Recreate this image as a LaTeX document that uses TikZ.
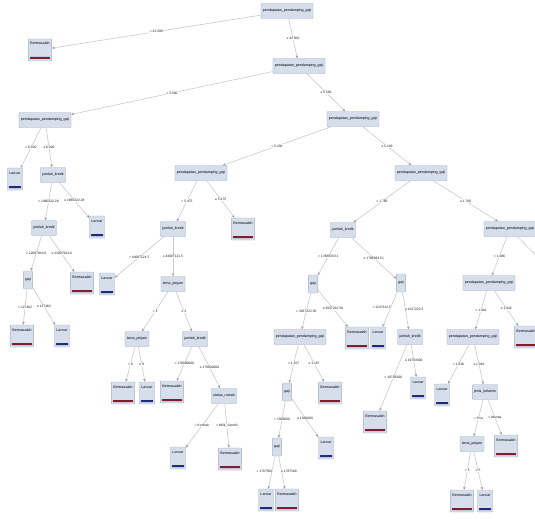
\documentclass[tikz,border=0pt]{standalone}
\usepackage{fontspec}
\setmainfont{Liberation Sans}
\usetikzlibrary{arrows.meta}
\definecolor{boxfill}{HTML}{D6DEEC}
\definecolor{boxline}{HTML}{A3AFC6}
\definecolor{edgec}{HTML}{CACACA}
\definecolor{redbar}{HTML}{7E1E2E}
\definecolor{bluebar}{HTML}{1E2B78}
\tikzset{
  inner/.style={draw=boxline, fill=boxfill, rounded corners=1pt, font=\fontsize{3.6}{4}\selectfont, inner xsep=1.8pt, inner ysep=1.5pt, minimum height=15pt, text=black},
  tall/.style={inner, minimum height=18pt, minimum width=9pt},
  leafnode/.style={draw=boxline, fill=boxfill, rounded corners=0.5pt, font=\fontsize{3.6}{4}\selectfont, inner xsep=2pt, inner ysep=2pt, text height=4pt, text depth=14pt, text=black},
  bermasalah/.style={leafnode, path picture={\fill[redbar] ([xshift=1.5pt,yshift=2pt]path picture bounding box.south west) rectangle ([xshift=-1.5pt,yshift=4pt]path picture bounding box.south east);}},
  lancar/.style={leafnode, path picture={\fill[bluebar] ([xshift=1.5pt,yshift=2pt]path picture bounding box.south west) rectangle ([xshift=-1.5pt,yshift=4pt]path picture bounding box.south east);}},
  conn/.style={draw=edgec, line width=0.6pt, -{Stealth[length=3pt,width=2.5pt,color=gray!80]}},
  elabel/.style={font=\fontsize{3.3}{4}\selectfont, fill=white, inner sep=0.4pt, text=black!90},
  ll/.style={elabel, anchor=east, xshift=1pt},
  rl/.style={elabel, anchor=west, xshift=-1pt}
}
\begin{document}
\begin{tikzpicture}[x=1pt,y=-1pt]
\useasboundingbox[fill=white] (0,0) rectangle (535,519);
% internal nodes
\node[inner] (root) at (287,11) {pendapatan\_pendamping\_gaji};
\node[inner] (n2) at (299,66) {pendapatan\_pendamping\_gaji};
\node[inner] (n3) at (45,120) {pendapatan\_pendamping\_gaji};
\node[inner] (n4) at (353,119) {pendapatan\_pendamping\_gaji};
\node[inner] (n5) at (53,175) {jumlah\_kredit};
\node[inner] (n6) at (44,228) {jumlah\_kredit};
\node[tall] (n7) at (28,280) {gaji};
\node[inner] (n8) at (201,173) {pendapatan\_pendamping\_gaji};
\node[inner] (n9) at (421,173) {pendapatan\_pendamping\_gaji};
\node[inner] (n10) at (173,229) {jumlah\_kredit};
\node[inner] (n11) at (173,284) {lama\_pinjam};
\node[inner] (n12) at (137,339) {lama\_pinjam};
\node[inner] (n13) at (195,339) {jumlah\_kredit};
\node[inner] (n14) at (224,396) {status\_rumah};
\node[inner] (n15) at (343,230) {jumlah\_kredit};
\node[inner] (n16) at (510,229) {pendapatan\_pendamping\_gaji};
\node[tall] (n17) at (313,284) {gaji};
\node[tall] (n18) at (401,283) {gaji};
\node[inner] (n19) at (300,337) {pendapatan\_pendamping\_gaji};
\node[inner] (n20) at (410,337) {jumlah\_kredit};
\node[tall] (n21) at (287,392) {gaji};
\node[tall] (n22) at (277,447) {gaji};
\node[inner] (n23) at (489,283) {pendapatan\_pendamping\_gaji};
\node[inner] (n24) at (473,337) {pendapatan\_pendamping\_gaji};
\node[inner] (n25) at (485,392) {jenis\_kelamin};
\node[inner] (n26) at (472,444) {lama\_pinjam};
\coordinate (off1) at (548,268);
% leaves
\node[bermasalah] (L1) at (40,50) {Bermasalah};
\node[lancar] (L2) at (15,179) {Lancar};
\node[lancar] (L3) at (97,227) {Lancar};
\node[bermasalah] (L4) at (82,283) {Bermasalah};
\node[bermasalah] (L5) at (22,336) {Bermasalah};
\node[lancar] (L6) at (62,336) {Lancar};
\node[bermasalah] (L7) at (243,229) {Bermasalah};
\node[lancar] (L8) at (107,284) {Lancar};
\node[bermasalah] (L9) at (123,393) {Bermasalah};
\node[lancar] (L10) at (147,393) {Lancar};
\node[bermasalah] (L11) at (172,392) {Bermasalah};
\node[lancar] (L12) at (178,458) {Lancar};
\node[bermasalah] (L13) at (230,459) {Bermasalah};
\node[bermasalah] (L14) at (357,338) {Bermasalah};
\node[lancar] (L15) at (378,338) {Lancar};
\node[bermasalah] (L16) at (330,393) {Bermasalah};
\node[bermasalah] (L17) at (375,422) {Bermasalah};
\node[lancar] (L18) at (418,388) {Lancar};
\node[lancar] (L19) at (326,448) {Lancar};
\node[lancar] (L20) at (266,500) {Lancar};
\node[bermasalah] (L21) at (287,500) {Bermasalah};
\node[bermasalah] (L22) at (526,337) {Bermasalah};
\node[lancar] (L23) at (442,395) {Lancar};
\node[bermasalah] (L24) at (506,446) {Bermasalah};
\node[bermasalah] (L25) at (462,501) {Bermasalah};
\node[lancar] (L26) at (485,501) {Lancar};
% connectors
\draw[conn] (root) -- node[elabel]{< 22.500} (L1);
\draw[conn] (root) -- node[elabel]{≥ 22.500} (n2);
\draw[conn] (n2) -- node[elabel]{< 5.500} (n3);
\draw[conn] (n2) -- node[elabel]{≥ 5.500} (n4);
\draw[conn] (n3) -- node[elabel]{< 6.020} (L2);
\draw[conn] (n3) -- node[elabel]{≥ 6.020} (n5);
\draw[conn] (n5) -- node[elabel]{> 1960222.28} (n6);
\draw[conn] (n5) -- node[elabel]{≤ 1960222.28} (L3);
\draw[conn] (n6) -- node[elabel]{> 22097943.6} (n7);
\draw[conn] (n6) -- node[elabel]{≤ 22097943.6} (L4);
\draw[conn] (n7) -- node[elabel]{< 127462} (L5);
\draw[conn] (n7) -- node[elabel]{≥ 127462} (L6);
\draw[conn] (n4) -- node[elabel]{< 5.430} (n8);
\draw[conn] (n4) -- node[elabel]{≥ 5.430} (n9);
\draw[conn] (n8) -- node[elabel]{< 5.475} (n10);
\draw[conn] (n8) -- node[elabel]{≥ 5.475} (L7);
\draw[conn] (n10) -- node[elabel]{> 44087121.5} (L8);
\draw[conn] (n10) -- node[elabel]{≤ 44087121.5} (n11);
\draw[conn] (n11) -- node[elabel]{< 3} (n12);
\draw[conn] (n11) -- node[elabel]{≥ 3} (n13);
\draw[conn] (n12) -- node[elabel]{< 9} (L9);
\draw[conn] (n12) -- node[elabel]{≥ 9} (L10);
\draw[conn] (n13) -- node[elabel]{> 178000000} (L11);
\draw[conn] (n13) -- node[elabel]{≤ 178000000} (n14);
\draw[conn] (n14) -- node[elabel]{= Kontrak} (L12);
\draw[conn] (n14) -- node[elabel]{= Milik\_Sendiri} (L13);
\draw[conn] (n9) -- node[elabel]{< 1.780} (n15);
\draw[conn] (n9) -- node[elabel]{≥ 1.780} (n16);
\draw[conn] (n15) -- node[elabel]{> 1788833.51} (n17);
\draw[conn] (n15) -- node[elabel]{≤ 1788833.51} (n18);
\draw[conn] (n17) -- node[elabel]{> 3037222.50} (n19);
\draw[conn] (n17) -- node[elabel]{≤ 3037222.50} (L14);
\draw[conn] (n18) -- node[ll,pos=0.45]{> 1237222.5} (L15);
\draw[conn] (n18) -- node[rl,pos=0.45]{≤ 1237222.5} (n20);
\draw[conn] (n19) -- node[elabel]{< 1.107} (n21);
\draw[conn] (n19) -- node[elabel]{≥ 1.107} (L16);
\draw[conn] (n20) -- node[elabel]{> 19703300} (L17);
\draw[conn] (n20) -- node[elabel]{≤ 19703300} (L18);
\draw[conn] (n21) -- node[elabel]{< 1568000} (n22);
\draw[conn] (n21) -- node[elabel]{≥ 1568000} (L19);
\draw[conn] (n22) -- node[ll,pos=0.45]{> 1787500} (L20);
\draw[conn] (n22) -- node[rl,pos=0.45]{≤ 1787500} (L21);
\draw[conn] (n16) -- node[elabel]{< 1.086} (n23);
\draw[conn] (n16) -- (off1);
\draw[conn] (n23) -- node[elabel]{< 1.042} (n24);
\draw[conn] (n23) -- node[elabel]{≥ 1.042} (L22);
\draw[conn] (n24) -- node[elabel]{< 1.016} (L23);
\draw[conn] (n24) -- node[elabel]{≥ 1.016} (n25);
\draw[conn] (n25) -- node[elabel]{= Pria} (n26);
\draw[conn] (n25) -- node[elabel]{= Wanita} (L24);
\draw[conn] (n26) -- node[elabel]{< 5} (L25);
\draw[conn] (n26) -- node[elabel]{≥ 5} (L26);
\end{tikzpicture}
\end{document}
